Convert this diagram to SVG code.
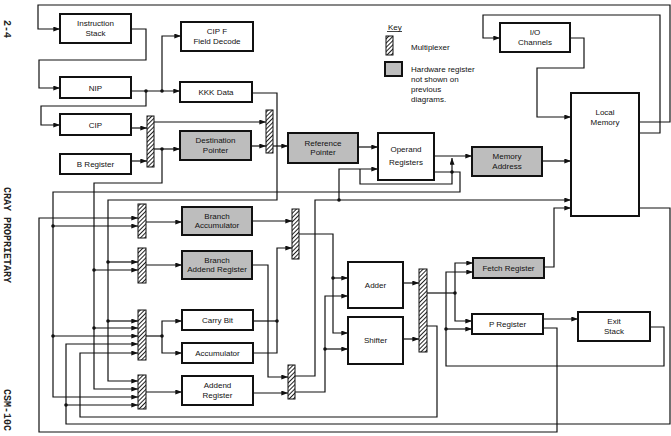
<svg xmlns="http://www.w3.org/2000/svg" width="671" height="436" viewBox="0 0 671 436">
<style>
.box{fill:#fff;stroke:#111;stroke-width:2}
.gbox{fill:#bdbdbd;stroke:#111;stroke-width:2}
.mux{fill:url(#hatch);stroke:#111;stroke-width:1}
.c{fill:none;stroke:#111;stroke-width:1.2}
.a{marker-end:url(#ah)}
.t{font-family:"Liberation Sans",Arial,sans-serif;font-size:8px;fill:#111;text-anchor:middle}
.k{font-family:"Liberation Sans",Arial,sans-serif;font-size:8px;fill:#111}
.m{font-family:"Liberation Mono","Courier New",monospace;font-size:10px;font-weight:bold;fill:#222}
.d{fill:#111}
</style>
<defs>
<marker id="ah" viewBox="0 0 8 6" refX="8" refY="3" markerWidth="7" markerHeight="5" markerUnits="userSpaceOnUse" orient="auto"><path d="M0,0 L8,3 L0,6 z" fill="#111"/></marker>
<pattern id="hatch" patternUnits="userSpaceOnUse" width="3" height="3" patternTransform="rotate(45)"><rect width="3" height="3" fill="#fff"/><line x1="0.5" y1="0" x2="0.5" y2="3" stroke="#222" stroke-width="1"/></pattern>
</defs>
<rect width="671" height="436" fill="#fff"/>

<text class="m" transform="translate(4,20) rotate(90)">2-4</text>
<text class="m" transform="translate(4,187) rotate(90)">CRAY PROPRIETARY</text>
<text class="m" transform="translate(4,389) rotate(90)">CSM-10C</text>

<g id="key">
<text class="k" x="388" y="29.5">Key</text>
<line x1="387" y1="31.5" x2="402" y2="31.5" stroke="#111" stroke-width="0.8"/>
<rect class="mux" x="386" y="36" width="7" height="19"/>
<text class="k" x="411" y="49.5">Multiplexer</text>
<rect class="gbox" x="385" y="62" width="17" height="14" stroke-width="1.5"/>
<text class="k" x="411" y="72">Hardware register</text>
<text class="k" x="411" y="82">not shown on</text>
<text class="k" x="411" y="92">previous</text>
<text class="k" x="411" y="102">diagrams.</text>
</g>

<g id="connectors">
<path class="c a" d="M639,122 H670 V5 H38 V29 H60"/>
<path class="c a" d="M131,29 H146 V60 H39 V88 H60"/>
<path class="c a" d="M131,91 H180"/>
<path class="c a" d="M162,91 V36 H181"/>
<path class="c a" d="M146,91 V106 H41 V125 H60"/>
<path class="c a" d="M131,128 H147"/>
<path class="c a" d="M131,161 H147"/>
<path class="c a" d="M154,122 H266"/>
<path class="c a" d="M154,149 H180"/>
<path class="c a" d="M162,149 V183 H94 V389 H138"/>
<path class="c a" d="M94,270 H138"/>
<path class="c a" d="M94,328 H138"/>
<path class="c a" d="M251,146 H266"/>
<path class="c a" d="M252,93 H277 V200 H108 V381 H138"/>
<path class="c a" d="M108,262 H138"/>
<path class="c a" d="M108,321 H138"/>
<path class="c a" d="M273,146 H288"/>
<path class="c a" d="M358,147 H378"/>
<path class="c a" d="M434,156 H472"/>
<path class="c a" d="M542,161 H571"/>
<path class="c a" d="M434,172 H460 V192 H53 V397 H138"/>
<path class="c a" d="M53,226 H138"/>
<path class="c a" d="M53,336 H138"/>
<path class="c a" d="M295,376 H315 V200 H571"/>
<path class="c a" d="M339,200 V169 H378"/>
<path class="c a" d="M360,169 V184 H452 V158"/>
<path class="c a" d="M544,267 H554 V208 H571"/>
<path class="c a" d="M639,133 H660 V15 H483 V38 H500"/>
<path class="c a" d="M570,38 H584 V68 H537 V117 H571"/>
<path class="c a" d="M639,208 H670 V424 H66 V344 H138"/>
<path class="c a" d="M66,405 H138"/>
<path class="c a" d="M427,326 H437 V417 H80 V353 H138"/>
<path class="c a" d="M543,328 H557 V432 H39 V218 H138"/>
<path class="c a" d="M146,222 H182"/>
<path class="c a" d="M146,265 H182"/>
<path class="c" d="M146,336 H162"/>
<path class="c a" d="M162,336 V321 H182"/>
<path class="c a" d="M162,336 V353 H182"/>
<path class="c a" d="M146,392 H182"/>
<path class="c a" d="M252,221 H292"/>
<path class="c" d="M253,321 H277"/>
<path class="c a" d="M253,353 H277 V248 H292"/>
<path class="c a" d="M252,265 H268 V377 H288"/>
<path class="c a" d="M253,393 H288"/>
<path class="c a" d="M299,234 H333 V333 H348"/>
<path class="c a" d="M333,278 H348"/>
<path class="c a" d="M295,392 H325 V296 H348"/>
<path class="c a" d="M325,349 H348"/>
<path class="c a" d="M403,283 H419"/>
<path class="c a" d="M403,339 H419"/>
<path class="c" d="M427,293 H455"/>
<path class="c a" d="M455,293 V263 H473"/>
<path class="c a" d="M455,293 V321 H472"/>
<path class="c a" d="M650,327 H664 V366 H446 V272 H473"/>
<path class="c a" d="M446,329 H472"/>
<path class="c a" d="M543,319 H578"/>
<circle class="d" cx="146" cy="91" r="1.8"/>
<circle class="d" cx="162" cy="91" r="1.8"/>
<circle class="d" cx="162" cy="149" r="1.8"/>
<circle class="d" cx="94" cy="270" r="1.8"/>
<circle class="d" cx="94" cy="328" r="1.8"/>
<circle class="d" cx="108" cy="262" r="1.8"/>
<circle class="d" cx="108" cy="321" r="1.8"/>
<circle class="d" cx="53" cy="226" r="1.8"/>
<circle class="d" cx="53" cy="336" r="1.8"/>
<circle class="d" cx="66" cy="405" r="1.8"/>
<circle class="d" cx="452" cy="172" r="1.8"/>
<circle class="d" cx="339" cy="200" r="1.8"/>
<circle class="d" cx="162" cy="336" r="1.8"/>
<circle class="d" cx="277" cy="321" r="1.8"/>
<circle class="d" cx="333" cy="278" r="1.8"/>
<circle class="d" cx="325" cy="349" r="1.8"/>
<circle class="d" cx="455" cy="293" r="1.8"/>
<circle class="d" cx="446" cy="329" r="1.8"/>
</g>

<g id="mux1"><rect class="mux" x="147" y="116" width="7" height="51"/></g>
<g id="mux2"><rect class="mux" x="266" y="110" width="7" height="43"/></g>
<g id="mux3"><rect class="mux" x="292" y="209" width="7" height="50"/></g>
<g id="mux4"><rect class="mux" x="288" y="365" width="7" height="34"/></g>
<g id="mux5"><rect class="mux" x="419" y="269" width="8" height="83"/></g>
<g id="mux6"><rect class="mux" x="138" y="204" width="8" height="34"/></g>
<g id="mux7"><rect class="mux" x="138" y="248" width="8" height="35"/></g>
<g id="mux8"><rect class="mux" x="138" y="310" width="8" height="50"/></g>
<g id="mux9"><rect class="mux" x="138" y="375" width="8" height="34"/></g>

<g id="instruction-stack"><rect class="box" x="60" y="14" width="71" height="29"/><text class="t" x="95.5" y="26">Instruction</text><text class="t" x="95.5" y="35.5">Stack</text></g>
<g id="cip-f"><rect class="box" x="181" y="22" width="72" height="29"/><text class="t" x="217" y="34">CIP F</text><text class="t" x="217" y="43.5">Field Decode</text></g>
<g id="nip"><rect class="box" x="60" y="77" width="71" height="21"/><text class="t" x="95.5" y="90.5">NIP</text></g>
<g id="kkk-data"><rect class="box" x="180" y="82" width="72" height="20"/><text class="t" x="216" y="95">KKK Data</text></g>
<g id="cip"><rect class="box" x="60" y="114" width="71" height="21"/><text class="t" x="95.5" y="127.5">CIP</text></g>
<g id="b-register"><rect class="box" x="60" y="154" width="71" height="20"/><text class="t" x="95.5" y="167">B Register</text></g>
<g id="destination-pointer"><rect class="gbox" x="180" y="131" width="71" height="29"/><text class="t" x="215.5" y="143">Destination</text><text class="t" x="215.5" y="152.5">Pointer</text></g>
<g id="reference-pointer"><rect class="gbox" x="288" y="133" width="70" height="30"/><text class="t" x="323" y="145.5">Reference</text><text class="t" x="323" y="155">Pointer</text></g>
<g id="operand-registers"><rect class="box" x="378" y="133" width="56" height="47"/><text class="t" x="406" y="152">Operand</text><text class="t" x="406" y="165">Registers</text></g>
<g id="memory-address"><rect class="gbox" x="472" y="147" width="70" height="29"/><text class="t" x="507" y="159">Memory</text><text class="t" x="507" y="168.5">Address</text></g>
<g id="io-channels"><rect class="box" x="500" y="23" width="70" height="29"/><text class="t" x="535" y="35">I/O</text><text class="t" x="535" y="44.5">Channels</text></g>
<g id="local-memory"><rect class="box" x="571" y="93" width="68" height="123"/><text class="t" x="605" y="115">Local</text><text class="t" x="605" y="125">Memory</text></g>
<g id="branch-accumulator"><rect class="gbox" x="182" y="207" width="70" height="28"/><text class="t" x="217" y="218.5">Branch</text><text class="t" x="217" y="228">Accumulator</text></g>
<g id="branch-addend-register"><rect class="gbox" x="182" y="251" width="70" height="28"/><text class="t" x="217" y="262.5">Branch</text><text class="t" x="217" y="272">Addend Register</text></g>
<g id="carry-bit"><rect class="box" x="182" y="310" width="71" height="20"/><text class="t" x="217.5" y="323">Carry Bit</text></g>
<g id="accumulator"><rect class="box" x="182" y="343" width="71" height="20"/><text class="t" x="217.5" y="356">Accumulator</text></g>
<g id="addend-register"><rect class="box" x="182" y="376" width="71" height="29"/><text class="t" x="217.5" y="388">Addend</text><text class="t" x="217.5" y="397.5">Register</text></g>
<g id="adder"><rect class="box" x="348" y="262" width="55" height="46"/><text class="t" x="375.5" y="288">Adder</text></g>
<g id="shifter"><rect class="box" x="348" y="317" width="55" height="47"/><text class="t" x="375.5" y="343">Shifter</text></g>
<g id="fetch-register"><rect class="gbox" x="473" y="258" width="71" height="20"/><text class="t" x="508.5" y="271">Fetch Register</text></g>
<g id="p-register"><rect class="box" x="472" y="314" width="71" height="20"/><text class="t" x="507.5" y="327">P Register</text></g>
<g id="exit-stack"><rect class="box" x="578" y="312" width="72" height="29"/><text class="t" x="614" y="324">Exit</text><text class="t" x="614" y="333.5">Stack</text></g>
</svg>
